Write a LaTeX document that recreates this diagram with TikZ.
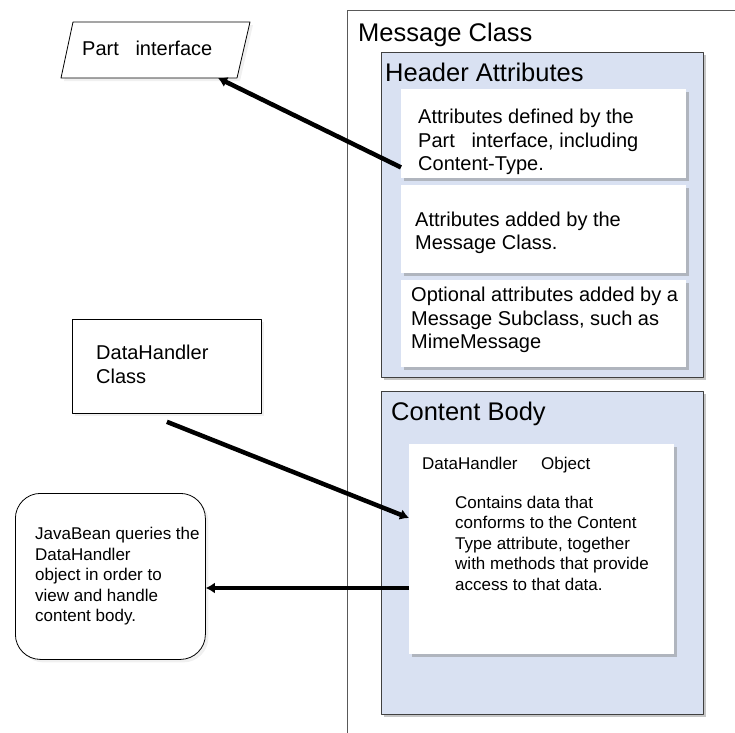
\documentclass[tikz,border=0pt]{standalone}
\usepackage{fontspec}
\setmainfont{Liberation Sans}
\usetikzlibrary{shadows,arrows.meta}
\definecolor{panelblue}{RGB}{217,225,242}
\tikzset{
	panel/.style={draw=black!75,fill=panelblue,line width=0.9pt,inner sep=0pt,anchor=north west,
		drop shadow={shadow xshift=3pt,shadow yshift=-3pt,opacity=0.45}},
	card/.style={fill=white,inner sep=0pt,anchor=north west,
		drop shadow={shadow xshift=3pt,shadow yshift=-3pt,opacity=0.45}},
	frame/.style={draw=black,fill=white,line width=0.8pt,inner sep=0pt,
		drop shadow={shadow xshift=3pt,shadow yshift=-3pt,opacity=0.12}},
	flow/.style={line width=4.5pt,-{Latex[length=9pt,width=11pt]}},
	big/.style={anchor=base west,inner sep=0pt,font=\fontsize{25.5}{30}\selectfont},
	mid/.style={anchor=base west,inner sep=0pt,align=left,font=\fontsize{20}{23.5}\selectfont},
	small/.style={anchor=base west,inner sep=0pt,align=left,font=\fontsize{17}{20.4}\selectfont},
}
\begin{document}
\begin{tikzpicture}[x=1pt,y=-1pt,line join=round]
	\clip (0,0) rectangle (735,732);
	%%%%%%%%%%%%%%% message class
	\node[draw=black!65,line width=0.8pt,anchor=north west,inner sep=0pt,minimum width=420pt,minimum height=760pt] (msg) at (347,10) {};
	\node[big] (msgtitle) at (358,41.5) {Message Class};
	%%%%%%%%%%%%%%% header attributes
	\node[panel,minimum width=322pt,minimum height=325pt] (hdr) at (381,52) {};
	\node[big] (hdrtitle) at (385,81) {Header Attributes};
	\node[card,minimum width=285pt,minimum height=89pt] (attrA) at (401,89) {};
	\node[card,minimum width=285pt,minimum height=88pt] (attrB) at (401,185) {};
	\node[card,minimum width=285pt,minimum height=87pt] (attrC) at (401,280) {};
	% multi-line texts sit on their last baseline
	\node[mid] (attrAtxt) at (418,170.5) {Attributes defined by the\\Part\ \ \ interface, including\\Content-Type.};
	\node[mid] (attrBtxt) at (415,249.5) {Attributes added by the\\Message Class.};
	\node[mid] (attrCtxt) at (411,348.5) {Optional attributes added by a\\Message Subclass, such as\\MimeMessage};
	%%%%%%%%%%%%%%% content body
	\node[panel,minimum width=322pt,minimum height=323pt] (cont) at (381,391) {};
	\node[big] (conttitle) at (391,420.5) {Content Body};
	\node[card,minimum width=265pt,minimum height=210pt] (dho) at (409,444) {};
	\node[small] (dhotitle) at (422,469) {DataHandler\ \ \ \ \ Object};
	\node[small] (dhotxt) at (455,590) {Contains data that\\conforms to the Content\\Type attribute, together\\with methods that provide\\access to that data.};
	%%%%%%%%%%%%%%% left side
	\draw[frame] (73,22) -- (250,22) -- (237,78) -- (61,78) -- cycle;
	\coordinate (part) at (218,78);
	\node[mid] (parttxt) at (82,55) {Part\ \ \ interface};
	\node[frame,anchor=north west,minimum width=189pt,minimum height=94pt] (dhc) at (72,319) {};
	\node[mid] (dhctxt) at (96,383) {DataHandler\\Class};
	\node[frame,rounded corners=25pt,anchor=north west,minimum width=190pt,minimum height=166pt] (bean) at (15,493) {};
	\node[small] (beantxt) at (35,621.5) {JavaBean queries the\\DataHandler\\object in order to\\view and handle\\content body.};
	%%%%%%%%%%%%%%% arrows
	\draw[flow] ([yshift=11pt]attrA.south west) -- (part);
	\draw[flow] ([yshift=-8pt]dhc.south) -- ([yshift=-74pt]dho.north west);
	\coordinate (query) at ([yshift=-144pt]dho.north west);
	\draw[flow] (query) -- (query -| bean.east);
\end{tikzpicture}
\end{document}
